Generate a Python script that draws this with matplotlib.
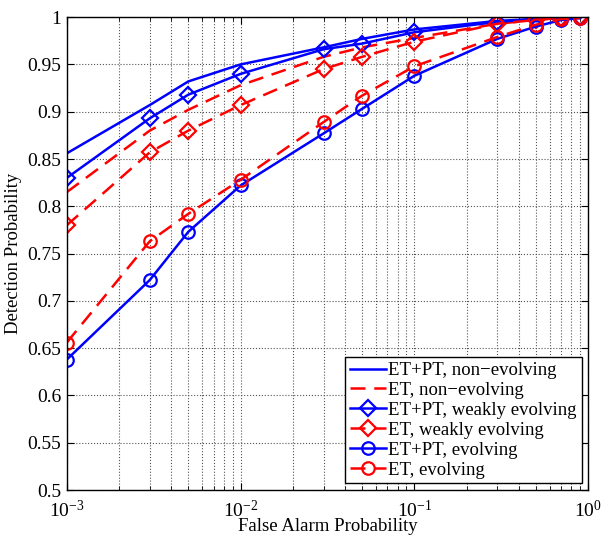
import matplotlib
matplotlib.use("Agg")
import matplotlib.pyplot as plt
import numpy as np

plt.rcParams['font.family'] = ['Liberation Serif', 'DejaVu Serif']
plt.rcParams['mathtext.fontset'] = 'stix'

pfa = [1e-3, 3e-3, 5e-3, 1e-2, 3e-2, 5e-2, 1e-1, 3e-1, 5e-1, 7e-1, 9e-1]
etpt_non = [0.856, 0.907, 0.932, 0.950, 0.968, 0.977, 0.987, 0.996, 0.998, 0.999, 1.0]
et_non = [0.815, 0.880, 0.902, 0.928, 0.958, 0.968, 0.978, 0.993, 0.997, 0.999, 1.0]
etpt_weak = [0.830, 0.893, 0.918, 0.940, 0.966, 0.972, 0.984, 0.995, 0.998, 0.999, 1.0]
et_weak = [0.780, 0.857, 0.880, 0.907, 0.945, 0.958, 0.974, 0.993, 0.997, 0.999, 1.0]
etpt_evo = [0.638, 0.722, 0.773, 0.822, 0.877, 0.903, 0.938, 0.977, 0.990, 0.997, 0.999]
et_evo = [0.656, 0.763, 0.792, 0.828, 0.889, 0.917, 0.948, 0.979, 0.992, 0.998, 0.999]

labels = ['ET+PT, non\u2212evolving', 'ET, non\u2212evolving', 'ET+PT, weakly evolving',
          'ET, weakly evolving', 'ET+PT, evolving', 'ET, evolving']
ytick_labels = ['0.5', '0.55', '0.6', '0.65', '0.7', '0.75', '0.8', '0.85', '0.9', '0.95', '1']

fig = plt.figure(figsize=(6.02, 5.35), dpi=100)
ax = fig.add_axes([0.111, 0.084, 0.866, 0.884])

lw = 1.8
ms = 9
ax.plot(pfa, etpt_non, '-', color='#0000ff', lw=lw, label=labels[0])
ax.plot(pfa, et_non, '--', color='#ff0000', lw=lw, dashes=(6, 3.5), label=labels[1])
ax.plot(pfa, etpt_weak, '-', color='#0000ff', lw=lw, marker='D', ms=ms-1, mfc='none', mew=1.6, label=labels[2])
ax.plot(pfa, et_weak, '--', color='#ff0000', lw=lw, dashes=(6, 3.5), marker='D', ms=ms-1, mfc='none', mew=1.6, label=labels[3])
ax.plot(pfa, etpt_evo, '-', color='#0000ff', lw=lw, marker='o', ms=ms, mfc='none', mew=1.6, label=labels[4])
ax.plot(pfa, et_evo, '--', color='#ff0000', lw=lw, dashes=(6, 3.5), marker='o', ms=ms, mfc='none', mew=1.6, label=labels[5])

ax.set_xscale('log')
ax.set_xlim(1e-3, 1)
ax.set_ylim(0.5, 1)
ax.set_yticks(np.linspace(0.5, 1.0, 11))
ax.set_yticklabels(ytick_labels)
ax.grid(True, which='major', linestyle=':', color='#555555', lw=0.8)
ax.grid(True, which='minor', axis='x', linestyle=':', color='#555555', lw=0.8)
ax.tick_params(which='both', direction='in', top=True, right=True, labelsize=14)
ax.tick_params(axis='y', pad=4)
ax.tick_params(axis='x', pad=7)
ax.tick_params(which='major', length=5)
ax.tick_params(which='minor', length=3)
for s in ax.spines.values():
    s.set_linewidth(1.0)

ax.set_xlabel('False Alarm Probability', fontsize=13.5, labelpad=-2)
ax.set_ylabel('Detection Probability', fontsize=13.5, labelpad=4)

leg = ax.legend(loc='lower right', fontsize=13.5, frameon=True, fancybox=False,
                edgecolor='black', framealpha=1, borderaxespad=0.35,
                handlelength=1.9, handletextpad=0.15, labelspacing=0.15, borderpad=0.25)
leg.get_frame().set_linewidth(1.0)

fig.savefig('out.png', dpi=100)
